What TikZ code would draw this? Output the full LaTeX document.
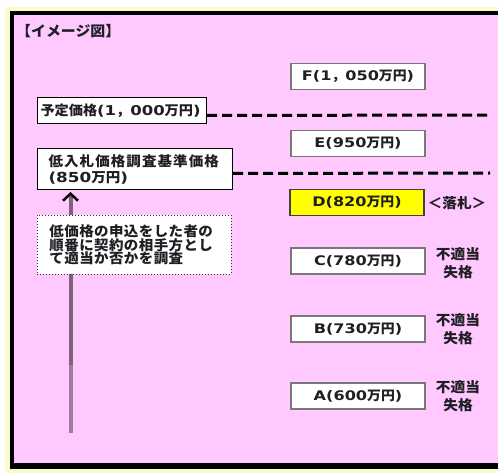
\documentclass[tikz,border=0pt]{standalone}
\usepackage{fontspec}
\setmainfont{Noto Sans CJK JP}[FakeStretch=1.05]
\newfontfamily\latfont{DejaVu Sans}[FakeStretch=1.22]
\newcommand\lt[1]{{\latfont\bfseries #1}}
\usetikzlibrary{arrows.meta}
\definecolor{bgpink}{RGB}{255,200,255}
\definecolor{paleyel}{RGB}{250,250,205}
\definecolor{arrowdark}{RGB}{125,98,125}
\definecolor{arrowlight}{RGB}{160,122,160}
\definecolor{txt}{RGB}{30,30,35}
\definecolor{bidgray}{RGB}{120,120,120}
\definecolor{bidyel}{RGB}{255,255,0}
\pgfdeclarelayer{back}
\pgfdeclarelayer{mid}
\pgfsetlayers{back,mid,main}
\tikzset{
  every node/.style={font=\bfseries\fontsize{13.5}{15}\selectfont, text=txt},
  leftbox/.style={draw=black, line width=1pt, fill=white, anchor=north west, align=left, inner ysep=0pt},
  bidbox/.style={draw=bidgray, line width=1.6pt, fill=white, minimum width=134pt, minimum height=26pt, inner sep=0pt, font=\bfseries\fontsize{13.2}{14}\selectfont},
  note/.style={font=\bfseries\fontsize{14}{18}\selectfont, align=center, inner sep=0pt},
  pricedash/.style={line width=3pt, dash pattern=on 10pt off 5pt, black},
  shaft/.style={line width=4pt},
}
\begin{document}
\begin{tikzpicture}[x=1pt,y=-1pt]
\useasboundingbox (0,0) rectangle (498,473);
\begin{pgfonlayer}{back}
  \fill[white] (0,0) rectangle (498,473);
  \fill[paleyel] (5,7) rectangle (498,473);
  \fill[black] (10,11) rectangle (498,469);
  \fill[bgpink] (14,15) rectangle (498,463);
\end{pgfonlayer}

\node[anchor=west, inner sep=0pt, font=\bfseries\fontsize{14.2}{15}\selectfont] (title) at (16,31) {【イメージ図】};

\node[leftbox, text width=163pt, inner xsep=3pt, minimum height=26pt] (yotei) at (37,97) {予定価格\lt{(1}，\lt{000}万円\lt{)}};
\node[leftbox, text width=173pt, inner xsep=11pt, minimum height=41pt, font=\bfseries\fontsize{13.8}{16}\selectfont] (teinyu) at (37,148)
  {{\addfontfeature{LetterSpace=8}低入札価格調査基準価格}\\\lt{(850}万円\lt{)}};
\node[leftbox, draw=black!80, dotted, line width=0.9pt, text width=170pt, inner xsep=12pt, minimum height=59pt, font=\bfseries\fontsize{13.8}{13.8}\selectfont] (chosa) at (37,215)
  {\addfontfeature{LetterSpace=3}低価格の申込をした者の\\順番に契約の相手方とし\\て適当か否かを調査};

\node[bidbox] (F) at (358,76.5) {\lt{F(1}，\lt{050}万円\lt{)}};
\node[bidbox] (E) at (358,143.5) {\lt{E(950}万円\lt{)}};
\node[bidbox, fill=bidyel, draw=black!75] (D) at (357,202.5) {\lt{D(820}万円\lt{)}};
\node[bidbox] (C) at (358,261) {\lt{C(780}万円\lt{)}};
\node[bidbox] (B) at (358,329) {\lt{B(730}万円\lt{)}};
\node[bidbox] (A) at (358,396) {\lt{A(600}万円\lt{)}};

\node[inner sep=0pt, font=\bfseries\fontsize{14}{15}\selectfont] (rak) at (457,203) {＜落札＞};
\node[note] (ngC) at (458,263) {不適当\\失格};
\node[note] (ngB) at (458,329) {不適当\\失格};
\node[note] (ngA) at (458,396) {不適当\\失格};

\coordinate (dashend1) at (488,115);
\coordinate (dashend2) at (490,173);
\coordinate (arrbot) at (70.5,433);
\coordinate (arrmid) at (70.5,365);

\draw[pricedash] ([yshift=-5pt]yotei.east) -- (dashend1);
\draw[pricedash] ([yshift=-4.5pt]teinyu.east) -- (dashend2);

\begin{pgfonlayer}{mid}
  \draw[shaft, arrowlight] (arrbot) -- (arrmid);
  \draw[shaft, arrowdark, shorten >=2pt, -{Straight Barb[color=black, length=7pt, width=15pt, line width=2.5pt]}] (arrmid) -- (arrbot |- teinyu.south);
\end{pgfonlayer}
\end{tikzpicture}
\end{document}
